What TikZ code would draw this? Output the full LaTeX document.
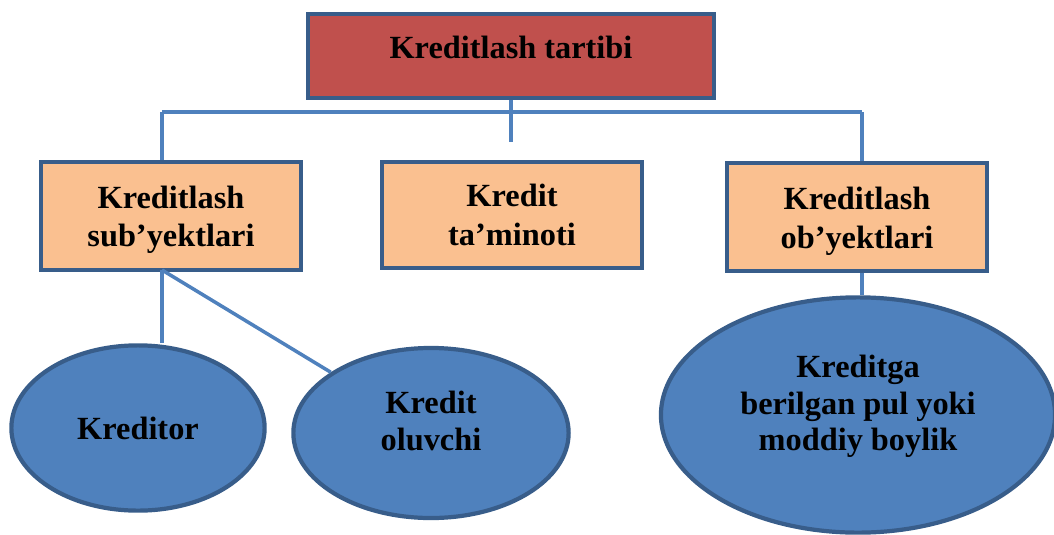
\documentclass[tikz,border=0pt]{standalone}
\usepackage{fontspec}
\setmainfont{Liberation Serif}
\usepackage{xcolor}
\usepackage{tikz}
\usetikzlibrary{shapes.geometric,calc}
\definecolor{edgeblue}{HTML}{385D8A}
\definecolor{linkblue}{HTML}{4F81BD}
\definecolor{headred}{HTML}{C0504D}
\definecolor{boxpeach}{HTML}{FAC090}
\definecolor{ovalblue}{HTML}{4F81BD}
\tikzset{
  headbox/.style={draw=edgeblue, line width=3pt, fill=headred, align=center,
                  font=\fontsize{23}{27}\selectfont\bfseries,
                  minimum width=10.15cm, minimum height=2.1cm},
  subbox/.style={draw=edgeblue, line width=3pt, fill=boxpeach, align=center,
                 font=\fontsize{23}{27.5}\selectfont\bfseries,
                 minimum width=6.5cm, minimum height=2.68cm},
  oval/.style={draw=edgeblue, line width=3pt, ellipse, fill=ovalblue, align=center,
               font=\fontsize{23}{26}\selectfont\bfseries, inner sep=0pt},
  conn/.style={draw=linkblue, line width=2.5pt},
}

\begin{document}
\begin{tikzpicture}[x=0.025cm, y=-0.025cm]
    \useasboundingbox (0,0) rectangle (1054,534);
    % top level
    \node[headbox, text depth=13pt] (head) at (511,56) {Kreditlash tartibi};
    % second level
    \node[subbox, text height=49pt] (subj) at (171,216) {Kreditlash\\sub’yektlari};
    \node[subbox, minimum height=2.65cm] (secur) at (512,215) {Kredit\\ta’minoti};
    \node[subbox, text height=50pt] (obj) at (857,217) {Kreditlash\\ob’yektlari};
    % third level
    \node[oval, minimum width=6.33cm, minimum height=4.13cm] (lender) at (138,428) {Kreditor};
    \node[oval, minimum width=6.88cm, minimum height=4.25cm, text depth=17pt] (borrow) at (431,433)
        {Kredit\\oluvchi};
    \node[oval, minimum width=9.85cm, minimum height=5.88cm, text depth=17pt] (wealth) at (858,415)
        {Kreditga\\berilgan pul yoki\\moddiy boylik};
    % connectors
    \coordinate (busL) at (162,112);
    \coordinate (busR) at (862,112);
    \coordinate (busM) at (512,142);
    \coordinate (subjout) at (162,270);
    \draw[conn] (busL) -- (busR);
    \draw[conn] (head.south) -- (head.south |- busM);
    \draw[conn] (busL) -- (busL |- subj.north);
    \draw[conn] (busR) -- (busR |- obj.north);
    \draw[conn] (subjout) -- (subjout |- lender.north);
    \draw[conn] (subjout) -- (borrow);
    \draw[conn] (busR |- obj.south) -- (busR |- wealth.north);
\end{tikzpicture}
\end{document}
